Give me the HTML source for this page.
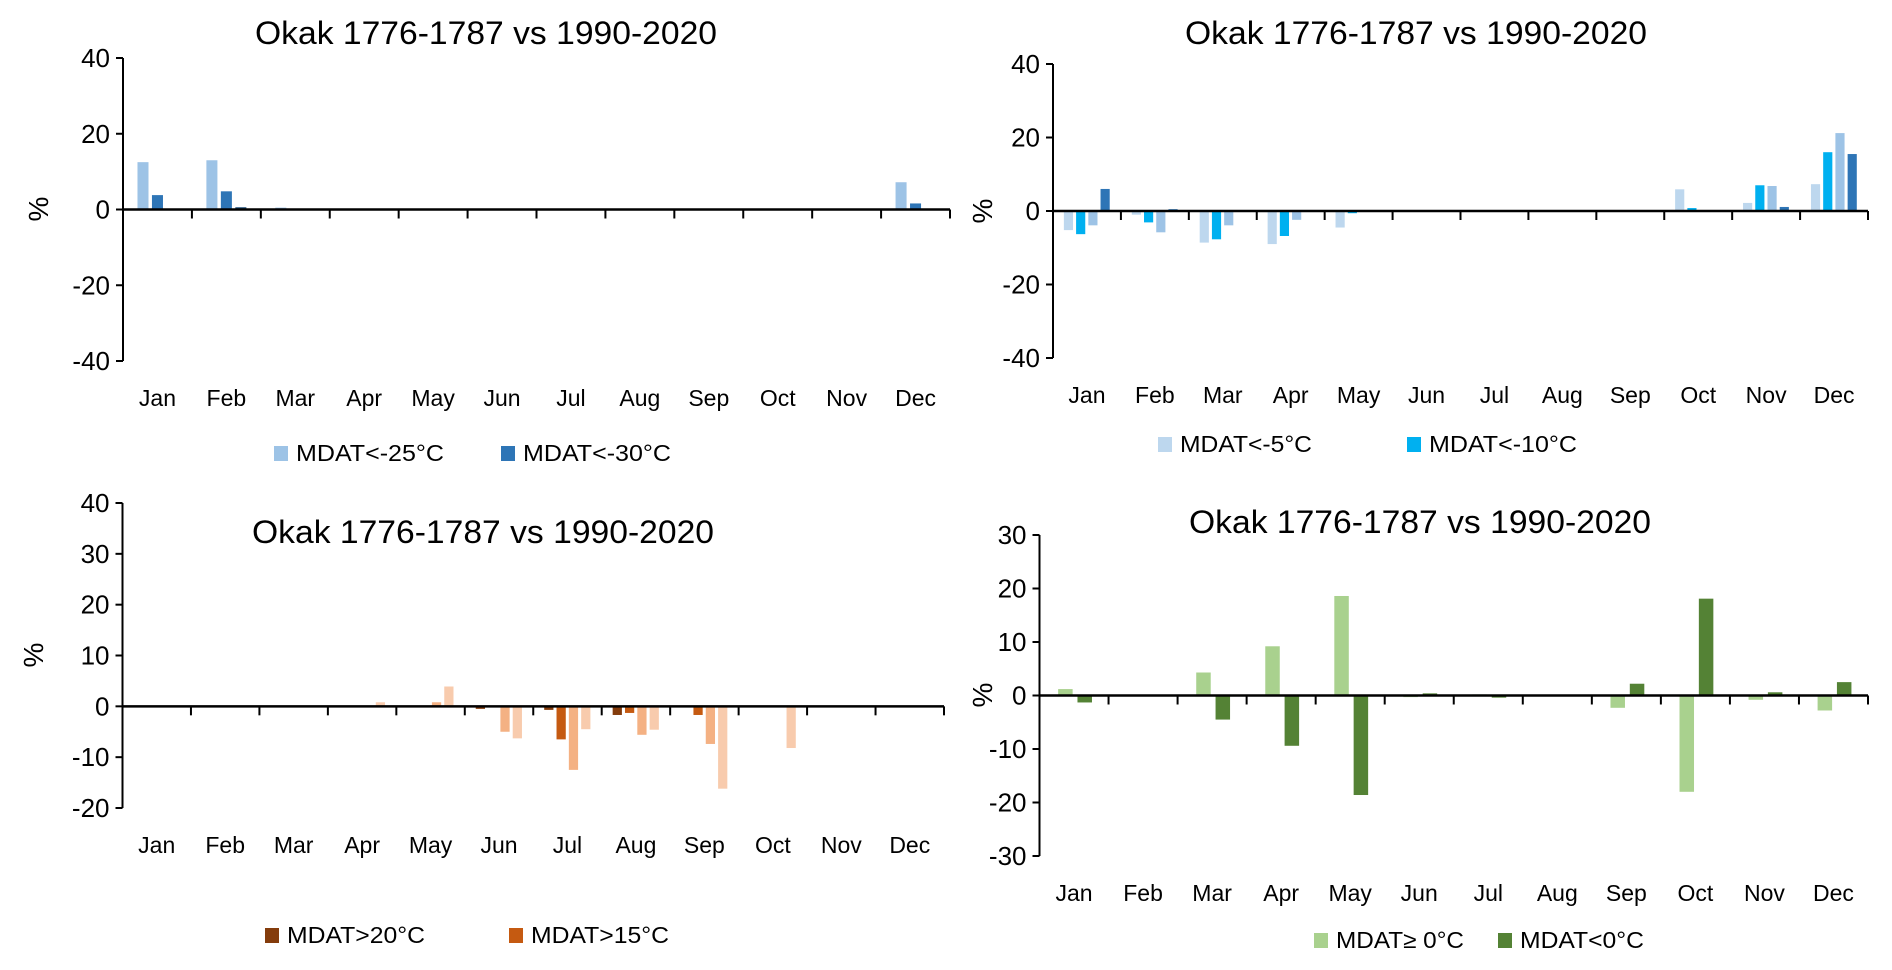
<!DOCTYPE html>
<html><head><meta charset="utf-8"><style>
html,body{margin:0;padding:0;background:#fff;}
svg{display:block;font-family:"Liberation Sans",sans-serif;}
</style></head>
<body>
<svg id="c" width="1892" height="970" viewBox="0 0 1892 970"></svg>
<script>
const months = ["Jan","Feb","Mar","Apr","May","Jun","Jul","Aug","Sep","Oct","Nov","Dec"];
const chartTitle = "Okak 1776-1787 vs 1990-2020";
// Chart A (top-left)
const aTicks = [40,20,0,-20,-40];
const aS0 = [12.5,13,0.5,0,0,0,0,0,0,0,0,7.2];
const aS1 = [3.8,4.8,0,0,0,0,0,0,0,0,0,1.6];
const aS2 = [0,0.6,0,0,0,0,0,0,0,0,0,0];
const aLegend = ["MDAT<-25°C","MDAT<-30°C"];
// Chart B (top-right)
const bTicks = [40,20,0,-20,-40];
const bS0 = [-5.2,-1,-8.6,-9,-4.5,0,0,0,0,5.9,2.2,7.3];
const bS1 = [-6.3,-3.1,-7.7,-6.8,-0.6,0,0,0,0,0.8,7,16];
const bS2 = [-3.9,-5.8,-3.9,-2.4,0,0,0,0,0,0,6.8,21.2];
const bS3 = [6,0.5,0,0,0,0,0,0,0,0,1.1,15.5];
const bLegend = ["MDAT<-5°C","MDAT<-10°C"];
// Chart C (bottom-left)
const cTicks = [40,30,20,10,0,-10,-20];
const cS0 = [0,0,0,0,0,-0.5,-0.7,-1.7,0,0,0,0];
const cS1 = [0,0,0,0,0,0,-6.5,-1.3,-1.7,0,0,0];
const cS2 = [0,0,0,0,0.8,-5,-12.5,-5.6,-7.4,0,0,0];
const cS3 = [0,0,0,0.8,3.9,-6.3,-4.5,-4.6,-16.2,-8.2,0,0];
const cLegend = ["MDAT>20°C","MDAT>15°C"];
// Chart D (bottom-right)
const dTicks = [30,20,10,0,-10,-20,-30];
const dS0 = [1.2,0,4.3,9.2,18.6,-0.3,0.2,0,-2.3,-18,-0.8,-2.8];
const dS1 = [-1.3,0,-4.5,-9.4,-18.6,0.4,-0.4,0,2.2,18.1,0.6,2.5];
const dLegend = ["MDAT≥ 0°C","MDAT<0°C"];

const svg = document.getElementById('c');
const NS = "http://www.w3.org/2000/svg";
function mk(tag, attrs, parent){const e=document.createElementNS(NS,tag);for(const k in attrs)e.setAttribute(k,attrs[k]);(parent||svg).appendChild(e);return e;}

function drawChart(cfg){
  const g = mk('g',{});
  
  
  const catW = (cfg.x1-cfg.x0)/months.length;
  const ymax = cfg.ticks[0], ymin = cfg.ticks[cfg.ticks.length-1];
  const yS = v => cfg.yTop + (ymax - v)/(ymax-ymin)*(cfg.yBot-cfg.yTop);
  const xS = (i,s) => cfg.x0 + catW*(i + cfg.off0 + cfg.offStep*s);
  const t = mk('text',{x:cfg.titleX,y:cfg.titleY,'text-anchor':'middle','font-size':32,fill:'#000',textLength:462,lengthAdjust:'spacingAndGlyphs'},g);
  t.textContent = chartTitle;
  
  
  cfg.series.forEach((arr,s)=>{
    arr.forEach((v,i)=>{
      if(v===0) return;
      const y0=yS(0), y1=yS(v);
      const r = mk('rect',{x:xS(i,s),y:Math.min(y0,y1),width:catW*cfg.bw,height:Math.abs(y1-y0),fill:cfg.colors[s]},g);
      
      
    });
  });
  const ya = mk('line',{x1:cfg.x0,y1:yS(ymax),x2:cfg.x0,y2:yS(ymin),stroke:'#000','stroke-width':2},g);
  
  
  cfg.ticks.forEach(v=>{
    mk('line',{x1:cfg.x0-7,y1:yS(v),x2:cfg.x0,y2:yS(v),stroke:'#000','stroke-width':2},g);
    const tl = mk('text',{x:cfg.x0-13,y:yS(v)+9,'text-anchor':'end','font-size':26,fill:'#000'},g);
    tl.textContent = v;
    
    
  });
  const xa = mk('line',{x1:cfg.x0,y1:yS(0),x2:cfg.x1,y2:yS(0),stroke:'#000','stroke-width':2.5},g);
  
  
  for(let i=1;i<=months.length;i++){
    mk('line',{x1:cfg.x0+catW*i,y1:yS(0),x2:cfg.x0+catW*i,y2:yS(0)+9,stroke:'#000','stroke-width':2},g);
  }
  months.forEach((m,i)=>{
    const ml = mk('text',{x:cfg.x0+catW*(i+0.5),y:cfg.monthY,'text-anchor':'middle','font-size':23,fill:'#000'},g);
    ml.textContent = m;
    
    
  });
  const yt = mk('text',{x:cfg.yTitleX,y:cfg.yTitleY,'text-anchor':'middle','font-size':28,fill:'#000',transform:`rotate(-90 ${cfg.yTitleX} ${cfg.yTitleY})`},g);
  yt.textContent = '%';
  
  
  cfg.legend.forEach((lab,k)=>{
    const lg = mk('g',{},g);
    
    
    mk('rect',{x:cfg.legX[k],y:cfg.legY-15,width:14,height:15,fill:cfg.colors[k]},lg);
    const lt = mk('text',{x:cfg.legX[k]+22,y:cfg.legY,'font-size':23,fill:'#000',textLength:cfg.legW[k],lengthAdjust:'spacingAndGlyphs'},lg);
    lt.textContent = lab;
  });
}

drawChart({name:'chart-top-left',x0:123,x1:950,yTop:58,yBot:361,ticks:aTicks,series:[aS0,aS1,aS2],
  colors:['#9DC3E6','#2E75B6','#1F4E79'],off0:0.21,offStep:0.21,bw:0.16,titleX:486,titleY:44,monthY:406,
  yTitleX:48,yTitleY:209,legend:aLegend,legX:[274,501],legY:461,legW:[148,148]});
drawChart({name:'chart-top-right',x0:1053,x1:1868,yTop:64,yBot:358,ticks:bTicks,series:[bS0,bS1,bS2,bS3],
  colors:['#BDD7EE','#00B0F0','#9DC3E6','#2E75B6'],off0:0.16,offStep:0.18,bw:0.135,titleX:1416,titleY:44,monthY:403,
  yTitleX:992,yTitleY:211,legend:bLegend,legX:[1158,1407],legY:452,legW:[132,148]});
drawChart({name:'chart-bottom-left',x0:122.5,x1:944,yTop:503,yBot:808,ticks:cTicks,series:[cS0,cS1,cS2,cS3],
  colors:['#843C0C','#C55A11','#F4B183','#F8CBAD'],off0:0.16,offStep:0.18,bw:0.135,titleX:483,titleY:543,monthY:853,
  yTitleX:43,yTitleY:655,legend:cLegend,legX:[265,509],legY:943,legW:[138,138]});
drawChart({name:'chart-bottom-right',x0:1039.5,x1:1868,yTop:535,yBot:856,ticks:dTicks,series:[dS0,dS1],
  colors:['#A9D18E','#548235'],off0:0.27,offStep:0.28,bw:0.21,titleX:1420,titleY:533,monthY:901,
  yTitleX:992,yTitleY:695,legend:dLegend,legX:[1314,1498],legY:948,legW:[128,124]});
</script>
</body></html>
